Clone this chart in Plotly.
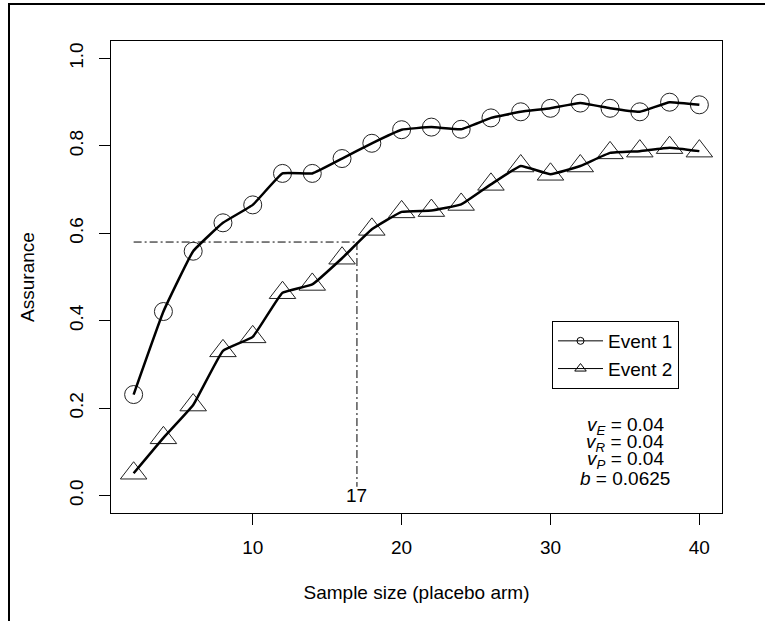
import plotly.graph_objects as go

# ---- data ----
sample_size = [2, 4, 6, 8, 10, 12, 14, 16, 18, 20, 22, 24, 26, 28, 30, 32, 34, 36, 38, 40]
event1 = [0.231, 0.421, 0.559, 0.624, 0.665, 0.737, 0.737, 0.771, 0.806, 0.837,
          0.843, 0.838, 0.864, 0.878, 0.886, 0.898, 0.886, 0.878, 0.900, 0.894]
event2 = [0.051, 0.132, 0.207, 0.331, 0.363, 0.464, 0.483, 0.543, 0.609, 0.649,
          0.652, 0.666, 0.712, 0.754, 0.735, 0.754, 0.784, 0.788, 0.796, 0.788]
series_names = ["Event 1", "Event 2"]

target_assurance = 0.58
required_n = 17
ref_start_x = 2
ref_bottom_y = 0.02

x_tick_vals = [10, 20, 30, 40]
x_tick_text = ["10", "20", "30", "40"]
y_tick_vals = [0.0, 0.2, 0.4, 0.6, 0.8, 1.0]
y_tick_text = ["0.0", "0.2", "0.4", "0.6", "0.8", "1.0"]

param_names = ["<i>v</i><sub><i>E</i></sub>", "<i>v</i><sub><i>R</i></sub>",
               "<i>v</i><sub><i>P</i></sub>", "<i>b</i>"]
param_values = ["0.04", "0.04", "0.04", "0.0625"]

FONT = "Liberation Sans, Arial, sans-serif"
FS = 19

fig = go.Figure()

# reference (dot-dash) lines
fig.add_trace(go.Scatter(x=[ref_start_x, required_n], y=[target_assurance, target_assurance],
                         mode="lines", line=dict(color="black", width=1, dash="8px,3px,2px,3px"),
                         showlegend=False, hoverinfo="skip"))
fig.add_trace(go.Scatter(x=[required_n, required_n], y=[target_assurance, ref_bottom_y],
                         mode="lines", line=dict(color="black", width=1, dash="8px,3px,2px,3px"),
                         showlegend=False, hoverinfo="skip"))

# markers
fig.add_trace(go.Scatter(x=sample_size, y=event1, mode="markers",
                         marker=dict(symbol="circle-open", size=18, color="#222",
                                     line=dict(width=1, color="#222")),
                         showlegend=False))
fig.add_trace(go.Scatter(x=sample_size, y=event2, mode="markers",
                         marker=dict(symbol="triangle-up-open", size=23, color="#222",
                                     line=dict(width=1, color="#222")),
                         showlegend=False))
# smooth lines
fig.add_trace(go.Scatter(x=sample_size, y=event1, mode="lines",
                         line=dict(color="black", width=2.5, shape="spline", smoothing=0.3),
                         showlegend=False))
fig.add_trace(go.Scatter(x=sample_size, y=event2, mode="lines",
                         line=dict(color="black", width=2.5, shape="spline", smoothing=0.3),
                         showlegend=False))

# legend entries
fig.add_trace(go.Scatter(x=[None], y=[None], mode="lines+markers", name=series_names[0],
                         line=dict(color="black", width=1),
                         marker=dict(symbol="circle-open", size=7, color="black",
                                     line=dict(width=1, color="black"))))
fig.add_trace(go.Scatter(x=[None], y=[None], mode="lines+markers", name=series_names[1],
                         line=dict(color="black", width=1),
                         marker=dict(symbol="triangle-up-open", size=10, color="black",
                                     line=dict(width=1, color="black"))))

annotations = [dict(x=required_n, y=0, xref="x", yref="y", text=str(required_n),
                    showarrow=False, font=dict(size=FS, color="black"),
                    xanchor="center", yanchor="middle")]
param_y_px = [426, 443, 460, 478]
for name, val, py in zip(param_names, param_values, param_y_px):
    annotations.append(dict(x=(625 - 111) / 611, y=(513 - py) / 472, xref="paper", yref="paper",
                            text=f"{name} = {val}", showarrow=False,
                            font=dict(size=FS, color="black"),
                            xanchor="center", yanchor="middle"))

fig.update_layout(
    width=765, height=621,
    margin=dict(l=111, r=43, t=41, b=108),
    paper_bgcolor="white", plot_bgcolor="white",
    font=dict(family=FONT, size=FS, color="black"),
    showlegend=True,
    legend=dict(x=(552 - 111) / 611, y=(513 - 321) / 472, xanchor="left", yanchor="top",
                bgcolor="white", bordercolor="black", borderwidth=1,
                font=dict(size=FS), tracegroupgap=0, itemwidth=45),
    annotations=annotations,
    shapes=[dict(type="rect", xref="paper", yref="paper",
                 x0=(9 - 111) / 611, x1=1.5, y0=-0.5, y1=(513 - 4) / 472,
                 line=dict(color="black", width=2), fillcolor="rgba(0,0,0,0)", layer="above")],
)
fig.update_xaxes(range=[0.48, 41.52], tickvals=x_tick_vals, ticktext=x_tick_text,
                 ticks="outside", ticklen=11, tickwidth=1, tickcolor="black",
                 showline=True, mirror=True, linecolor="black", linewidth=1,
                 showgrid=False, zeroline=False, ticklabelstandoff=6,
                 title=dict(text="Sample size (placebo arm)", standoff=28, font=dict(size=FS)))
fig.update_yaxes(range=[-0.04, 1.04], tickvals=y_tick_vals, ticktext=y_tick_text,
                 ticks="outside", ticklen=11, tickwidth=1, tickcolor="black", tickangle=-90,
                 showline=True, mirror=True, linecolor="black", linewidth=1,
                 showgrid=False, zeroline=False, ticklabelstandoff=8,
                 title=dict(text="Assurance", standoff=26, font=dict(size=FS)))

fig.write_html("out.html", config={"displayModeBar": False},
               post_script="document.body.style.margin='0';")
